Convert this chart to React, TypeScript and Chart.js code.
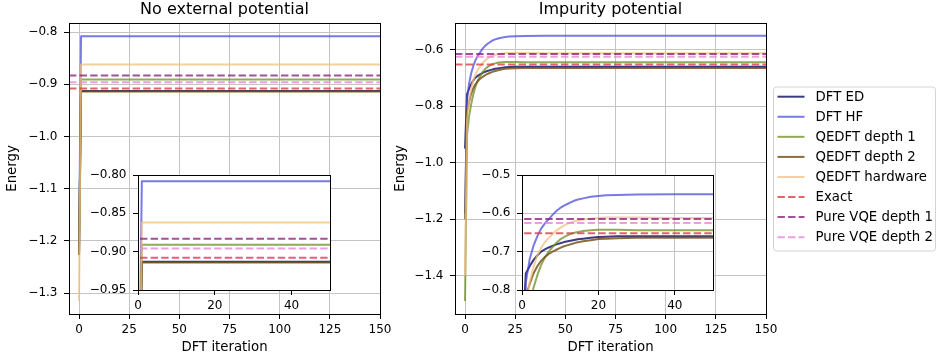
import React, { useEffect, useRef } from 'react';
import { Chart, registerables } from 'chart.js';

Chart.register(...registerables);

const FONT = "'DejaVu Sans', 'Liberation Sans', sans-serif";
Chart.defaults.font.family = FONT;
Chart.defaults.color = '#000';

// ---------------- data ----------------
const SOLID_LABELS = ['DFT ED', 'DFT HF', 'QEDFT depth 1', 'QEDFT depth 2', 'QEDFT hardware'];
const DASHED_LABELS = ['Exact', 'Pure VQE depth 1', 'Pure VQE depth 2'];
const PANEL_TITLES = ['No external potential', 'Impurity potential'];
const X_TITLE = 'DFT iteration';
const Y_TITLE = 'Energy';

// Left panel: no external potential
const ITER_LEFT = [0, 1, 150];
const DFT_ED_LEFT = [-1.227, -0.913, -0.913];
const DFT_HF_LEFT = [-1.22, -0.808, -0.808];
const QEDFT_D1_LEFT = [-1.225, -0.891, -0.891];
const QEDFT_D2_LEFT = [-1.227, -0.914, -0.914];
const QEDFT_HW_LEFT = [-1.315, -0.862, -0.862];
const EXACT_LEFT = -0.908;
const VQE_D1_LEFT = -0.883;
const VQE_D2_LEFT = -0.896;

// Right panel: impurity potential
const ITER_RIGHT = [0, 1, 2, 3, 4, 5, 6, 7, 8, 9, 10, 11, 12, 13, 14, 15, 16, 18, 20, 22, 25, 30, 40, 150];
const DFT_ED_RIGHT = [-0.95, -0.757, -0.738, -0.722, -0.71, -0.7, -0.694, -0.689, -0.685, -0.681, -0.678, -0.675, -0.673, -0.671, -0.669, -0.667, -0.666, -0.664, -0.662, -0.661, -0.66, -0.66, -0.66, -0.66];
const DFT_HF_RIGHT = [-1.18, -0.78, -0.72, -0.685, -0.66, -0.64, -0.626, -0.615, -0.604, -0.594, -0.586, -0.58, -0.575, -0.57, -0.566, -0.563, -0.561, -0.557, -0.555, -0.553, -0.552, -0.551, -0.55, -0.55];
const QEDFT_D1_RIGHT = [-1.49, -0.9, -0.835, -0.795, -0.762, -0.735, -0.715, -0.7, -0.688, -0.677, -0.668, -0.662, -0.657, -0.653, -0.65, -0.648, -0.646, -0.644, -0.643, -0.643, -0.643, -0.644, -0.644, -0.644];
const QEDFT_D2_RIGHT = [-1.2, -0.815, -0.785, -0.757, -0.738, -0.724, -0.714, -0.706, -0.7, -0.695, -0.69, -0.686, -0.683, -0.68, -0.677, -0.675, -0.673, -0.67, -0.667, -0.666, -0.665, -0.664, -0.664, -0.664];
const QEDFT_HW_RIGHT = [-1.4, -0.85, -0.78, -0.74, -0.71, -0.69, -0.675, -0.664, -0.654, -0.645, -0.638, -0.632, -0.627, -0.623, -0.62, -0.618, -0.616, -0.614, -0.612, -0.611, -0.611, -0.611, -0.612, -0.612];
const EXACT_RIGHT = -0.652;
const VQE_D1_RIGHT = -0.615;
const VQE_D2_RIGHT = -0.625;

// axis ranges and ticks
const X_RANGE_MAIN = [-5, 150];
const X_RANGE_INSET = [0, 50];
const Y_RANGE_LEFT = [-1.34, -0.7826];
const Y_RANGE_LEFT_INSET = [-0.95, -0.8];
const Y_RANGE_RIGHT = [-1.536, -0.505];
const Y_RANGE_RIGHT_INSET = [-0.8, -0.5];

const X_TICKS_MAIN = [0, 25, 50, 75, 100, 125, 150];
const X_LABELS_MAIN = ['0', '25', '50', '75', '100', '125', '150'];
const X_TICKS_INSET = [0, 20, 40];
const X_LABELS_INSET = ['0', '20', '40'];
const Y_TICKS_LEFT = [-1.3, -1.2, -1.1, -1.0, -0.9, -0.8];
const Y_LABELS_LEFT = ['\u22121.3', '\u22121.2', '\u22121.1', '\u22121.0', '\u22120.9', '\u22120.8'];
const Y_TICKS_LEFT_INSET = [-0.95, -0.9, -0.85, -0.8];
const Y_LABELS_LEFT_INSET = ['\u22120.95', '\u22120.90', '\u22120.85', '\u22120.80'];
const Y_TICKS_RIGHT = [-1.4, -1.2, -1.0, -0.8, -0.6];
const Y_LABELS_RIGHT = ['\u22121.4', '\u22121.2', '\u22121.0', '\u22120.8', '\u22120.6'];
const Y_TICKS_RIGHT_INSET = [-0.8, -0.7, -0.6, -0.5];
const Y_LABELS_RIGHT_INSET = ['\u22120.8', '\u22120.7', '\u22120.6', '\u22120.5'];

// ---------------- styles ----------------
const SOLID_COLORS = [
  'rgba(25,25,105,0.85)',
  'rgba(70,70,220,0.72)',
  'rgba(107,142,35,0.75)',
  'rgba(115,78,20,0.82)',
  'rgba(240,192,125,0.75)',
];
const DASH_COLORS = ['rgba(220,60,70,0.8)', 'rgba(140,35,130,0.8)', 'rgba(230,135,215,0.8)'];
const LINE_W = 2;
const DASH = [7.4, 3.2];

function buildDatasets(iter: number[], series: number[][], refs: number[], span: number[]) {
  const ds: any[] = [];
  series.forEach((vals, i) => {
    ds.push({
      label: SOLID_LABELS[i],
      data: iter.map((x, k) => ({ x, y: vals[k] })),
      borderColor: SOLID_COLORS[i],
      borderWidth: LINE_W,
      pointRadius: 0,
      tension: 0,
      fill: false,
      borderJoinStyle: 'round',
    });
  });
  refs.forEach((v, i) => {
    ds.push({
      label: DASHED_LABELS[i],
      data: span.map((x) => ({ x, y: v })),
      borderColor: DASH_COLORS[i],
      borderWidth: LINE_W,
      borderDash: DASH,
      pointRadius: 0,
      tension: 0,
      fill: false,
    });
  });
  const n = ds.length;
  ds.forEach((d, i) => (d.order = n - i));
  return ds;
}

function framePlugin(fillWhite: boolean) {
  return {
    id: 'frame',
    beforeDraw(chart: any) {
      if (!fillWhite) return;
      const { left, top, width, height } = chart.chartArea;
      const ctx = chart.ctx;
      ctx.save();
      ctx.fillStyle = '#ffffff';
      ctx.fillRect(left, top, width, height);
      ctx.restore();
    },
    afterDatasetsDraw(chart: any) {
      const { left, top, width, height } = chart.chartArea;
      const ctx = chart.ctx;
      ctx.save();
      ctx.strokeStyle = '#000';
      ctx.lineWidth = 1;
      ctx.strokeRect(left + 0.5, top + 0.5, width, height);
      ctx.restore();
    },
  };
}

function titlePlugin(text: string) {
  return {
    id: 'panelTitle',
    afterDraw(chart: any) {
      const { left, right, top } = chart.chartArea;
      const ctx = chart.ctx;
      ctx.save();
      ctx.font = `16px ${FONT}`;
      ctx.fillStyle = '#000';
      ctx.textAlign = 'center';
      ctx.textBaseline = 'alphabetic';
      ctx.fillText(text, (left + right) / 2, top - 9);
      ctx.restore();
    },
  };
}

function legendPlugin(box: { x: number; y: number; w: number; h: number }) {
  return {
    id: 'sideLegend',
    afterDraw(chart: any) {
      const ctx = chart.ctx;
      ctx.save();
      ctx.beginPath();
      ctx.roundRect(box.x + 0.5, box.y + 0.5, box.w, box.h, 3);
      ctx.fillStyle = 'rgba(255,255,255,0.8)';
      ctx.fill();
      ctx.strokeStyle = '#d4d4d4';
      ctx.lineWidth = 1;
      ctx.stroke();
      const datasets = chart.data.datasets;
      const rowStep = 20.07;
      const y0 = box.y + 10.2;
      datasets.forEach((d: any, i: number) => {
        const y = y0 + i * rowStep;
        ctx.beginPath();
        ctx.setLineDash(d.borderDash || []);
        ctx.strokeStyle = d.borderColor;
        ctx.lineWidth = LINE_W;
        ctx.moveTo(box.x + 4.5, y);
        ctx.lineTo(box.x + 31.5, y);
        ctx.stroke();
        ctx.setLineDash([]);
        ctx.font = `13.3px ${FONT}`;
        ctx.fillStyle = '#000';
        ctx.textAlign = 'left';
        ctx.textBaseline = 'middle';
        ctx.fillText(d.label, box.x + 42.5, y + 0.5);
      });
      ctx.restore();
    },
  };
}

type PanelSpec = {
  left: number;
  top: number;
  w: number;
  h: number;
  padding: { left: number; right: number; top: number; bottom: number };
  yAxisWidth: number;
  xAxisHeight: number;
  xRange: number[];
  yRange: number[];
  xTicks: number[];
  xLabels: string[];
  yTicks: number[];
  yLabels: string[];
  gridOnArea: boolean;
  fillWhite: boolean;
  datasets: any[];
  title?: string;
  axisTitles?: boolean;
  yTitlePad?: number;
  legendBox?: { x: number; y: number; w: number; h: number };
};

function buildConfig(p: PanelSpec): any {
  const gridCommon = {
    display: true,
    drawOnChartArea: p.gridOnArea,
    drawTicks: true,
    tickLength: 5,
    color: '#c4c4c4',
    lineWidth: 1,
    tickColor: '#000',
    tickWidth: 1,
  };
  const plugins: any[] = [framePlugin(p.fillWhite)];
  if (p.title) plugins.push(titlePlugin(p.title));
  if (p.legendBox) plugins.push(legendPlugin(p.legendBox));
  return {
    type: 'line',
    data: { datasets: p.datasets },
    options: {
      animation: false,
      responsive: false,
      maintainAspectRatio: false,
      devicePixelRatio: 1,
      events: [],
      layout: { padding: p.padding },
      plugins: {
        legend: { display: false },
        tooltip: { enabled: false },
        title: { display: false },
      },
      scales: {
        x: {
          type: 'linear',
          min: p.xRange[0],
          max: p.xRange[1],
          afterBuildTicks: (s: any) => {
            s.ticks = p.xTicks.map((v) => ({ value: v }));
          },
          afterFit: (s: any) => {
            s.height = p.xAxisHeight;
            s.paddingLeft = 0;
            s.paddingRight = 0;
          },
          ticks: {
            autoSkip: false,
            maxRotation: 0,
            minRotation: 0,
            padding: 3.3,
            color: '#000',
            font: { size: 12, family: FONT },
            callback: (_v: any, i: number) => p.xLabels[i],
          },
          grid: gridCommon,
          border: { display: false },
          title: {
            display: !!p.axisTitles,
            text: X_TITLE,
            color: '#000',
            font: { size: 13.3, family: FONT },
            padding: { top: 0, bottom: 5 },
          },
        },
        y: {
          type: 'linear',
          min: p.yRange[0],
          max: p.yRange[1],
          afterBuildTicks: (s: any) => {
            s.ticks = p.yTicks.map((v) => ({ value: v }));
          },
          afterFit: (s: any) => {
            s.width = p.yAxisWidth;
            s.paddingTop = 0;
            s.paddingBottom = 0;
          },
          ticks: {
            autoSkip: false,
            padding: 6.5,
            color: '#000',
            font: { size: 12, family: FONT },
            callback: (_v: any, i: number) => p.yLabels[i],
          },
          grid: gridCommon,
          border: { display: false },
          title: {
            display: !!p.axisTitles,
            text: Y_TITLE,
            color: '#000',
            font: { size: 13.3, family: FONT },
            padding: { top: p.yTitlePad || 0, bottom: 0 },
          },
        },
      },
    },
    plugins,
  };
}

function Panel({ spec }: { spec: PanelSpec }) {
  const ref = useRef<HTMLCanvasElement | null>(null);
  useEffect(() => {
    if (!ref.current) return;
    const chart = new Chart(ref.current, buildConfig(spec));
    return () => chart.destroy();
  }, []);
  return (
    <canvas
      ref={ref}
      width={spec.w}
      height={spec.h}
      style={{ position: 'absolute', left: spec.left, top: spec.top, width: spec.w, height: spec.h }}
    />
  );
}

const leftSeries = [DFT_ED_LEFT, DFT_HF_LEFT, QEDFT_D1_LEFT, QEDFT_D2_LEFT, QEDFT_HW_LEFT];
const leftRefs = [EXACT_LEFT, VQE_D1_LEFT, VQE_D2_LEFT];
const rightSeries = [DFT_ED_RIGHT, DFT_HF_RIGHT, QEDFT_D1_RIGHT, QEDFT_D2_RIGHT, QEDFT_HW_RIGHT];
const rightRefs = [EXACT_RIGHT, VQE_D1_RIGHT, VQE_D2_RIGHT];

const LEFT_MAIN: PanelSpec = {
  left: 0,
  top: 0,
  w: 410,
  h: 361,
  padding: { left: 0, right: 30, top: 23, bottom: 0 },
  yAxisWidth: 69,
  xAxisHeight: 47,
  xRange: X_RANGE_MAIN,
  yRange: Y_RANGE_LEFT,
  xTicks: X_TICKS_MAIN,
  xLabels: X_LABELS_MAIN,
  yTicks: Y_TICKS_LEFT,
  yLabels: Y_LABELS_LEFT,
  gridOnArea: true,
  fillWhite: false,
  datasets: buildDatasets(ITER_LEFT, leftSeries, leftRefs, X_RANGE_MAIN),
  title: PANEL_TITLES[0],
  axisTitles: true,
  yTitlePad: 5,
};

const LEFT_INSET: PanelSpec = {
  left: 80,
  top: 160,
  w: 270,
  h: 170,
  padding: { left: 0, right: 20, top: 15, bottom: 0 },
  yAxisWidth: 58,
  xAxisHeight: 40,
  xRange: X_RANGE_INSET,
  yRange: Y_RANGE_LEFT_INSET,
  xTicks: X_TICKS_INSET,
  xLabels: X_LABELS_INSET,
  yTicks: Y_TICKS_LEFT_INSET,
  yLabels: Y_LABELS_LEFT_INSET,
  gridOnArea: false,
  fillWhite: true,
  datasets: buildDatasets(ITER_LEFT, leftSeries, leftRefs, X_RANGE_MAIN),
};

const RIGHT_MAIN: PanelSpec = {
  left: 390,
  top: 0,
  w: 548,
  h: 361,
  padding: { left: 0, right: 172, top: 23, bottom: 0 },
  yAxisWidth: 65,
  xAxisHeight: 47,
  xRange: X_RANGE_MAIN,
  yRange: Y_RANGE_RIGHT,
  xTicks: X_TICKS_MAIN,
  xLabels: X_LABELS_MAIN,
  yTicks: Y_TICKS_RIGHT,
  yLabels: Y_LABELS_RIGHT,
  gridOnArea: true,
  fillWhite: false,
  datasets: buildDatasets(ITER_RIGHT, rightSeries, rightRefs, X_RANGE_MAIN),
  title: PANEL_TITLES[1],
  axisTitles: true,
  yTitlePad: 3,
  legendBox: { x: 383, y: 86.5, w: 162, h: 164 },
};

const RIGHT_INSET: PanelSpec = {
  left: 460,
  top: 160,
  w: 280,
  h: 170,
  padding: { left: 0, right: 27, top: 15, bottom: 0 },
  yAxisWidth: 62,
  xAxisHeight: 40,
  xRange: X_RANGE_INSET,
  yRange: Y_RANGE_RIGHT_INSET,
  xTicks: X_TICKS_INSET,
  xLabels: X_LABELS_INSET,
  yTicks: Y_TICKS_RIGHT_INSET,
  yLabels: Y_LABELS_RIGHT_INSET,
  gridOnArea: true,
  fillWhite: true,
  datasets: buildDatasets(ITER_RIGHT, rightSeries, rightRefs, X_RANGE_MAIN),
};

export default function App() {
  return (
    <div
      style={{
        position: 'fixed',
        left: 0,
        top: 0,
        width: 938,
        height: 361,
        background: '#ffffff',
        overflow: 'hidden',
      }}
    >
      <Panel spec={LEFT_MAIN} />
      <Panel spec={RIGHT_MAIN} />
      <Panel spec={LEFT_INSET} />
      <Panel spec={RIGHT_INSET} />
    </div>
  );
}
